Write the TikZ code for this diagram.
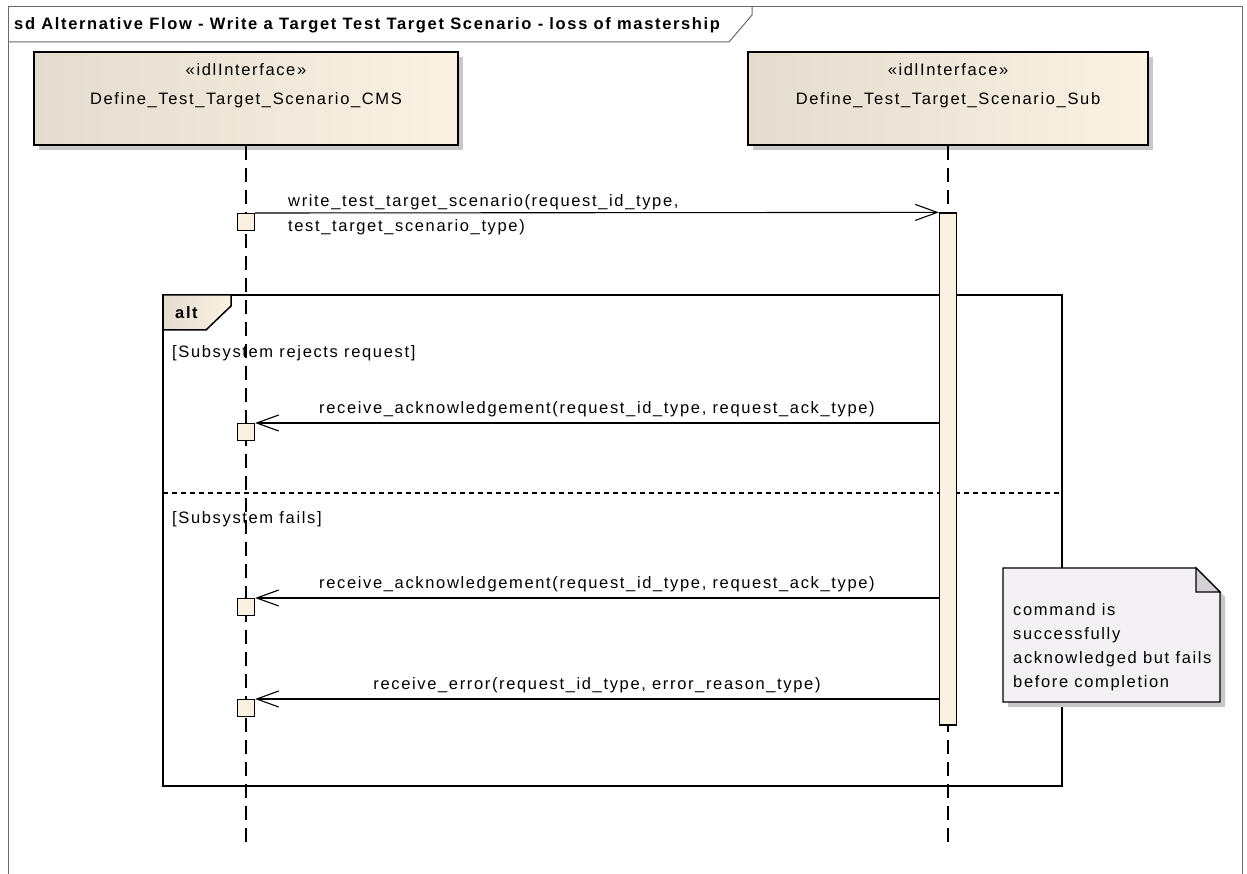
\documentclass[tikz,border=0pt]{standalone}
\usepackage{fontspec}
\setmainfont{Liberation Sans}[LetterSpace=10]
\usetikzlibrary{arrows.meta,shadows}

\definecolor{boxL}{RGB}{228,220,206}
\definecolor{boxR}{RGB}{251,242,228}
\definecolor{execfill}{RGB}{251,241,227}
\definecolor{notefill}{RGB}{244,241,245}
\definecolor{foldfill}{RGB}{212,208,213}
\definecolor{shadowgray}{RGB}{200,200,200}
\definecolor{framegray}{RGB}{105,105,105}

\tikzset{
    txt/.style={font=\fontsize{16.5}{29}\selectfont,inner sep=0pt},
    boxshadow/.style={drop shadow={shadow xshift=5pt,shadow yshift=-5pt,fill=shadowgray,opacity=1}},
    lifebox/.style={draw=black,line width=1.5pt,left color=boxL,right color=boxR,
        minimum height=93pt,inner sep=0pt,boxshadow},
    lifeline/.style={line width=1.2pt,dash pattern=on 14pt off 8pt},
    execsq/.style={draw=black,line width=1.2pt,fill=execfill,minimum size=17pt,inner sep=0pt},
    execbar/.style={draw=black,line width=1.2pt,fill=execfill,minimum width=17pt,
        minimum height=512pt,inner sep=0pt},
    msg/.style={line width=1.1pt,-{Straight Barb[length=22pt,width=16pt,line width=1.1pt]}},
    msglabel/.style={txt,above=6pt},
    fragment/.style={line width=1.5pt},
    guardline/.style={line width=1.1pt,dash pattern=on 5pt off 4pt}
}

\begin{document}
\begin{tikzpicture}[x=1pt,y=-1pt]
    \useasboundingbox (0,0) rectangle (1247,874);
    % outer frame
    \draw[framegray,line width=1pt](8,874)--(8,7)--(1242,7)--(1242,874);
    \draw[framegray,line width=1pt](8,42)--(729,42)--(752,15)--(752,7);
    \node[txt,anchor=west,font=\fontsize{16.5}{20}\selectfont\bfseries](title)at(14,25)
        {sd Alternative Flow - Write a Target Test Target Scenario - loss of mastership};
    % lifelines
    \node[lifebox,minimum width=424pt](cms)at(246,98.5){};
    \node[lifebox,minimum width=400pt](sub)at(948,98.5){};
    \node[txt,align=center](cmsTxt)at(246,85.5){«idlInterface»\\Define\_Test\_Target\_Scenario\_CMS};
    \node[txt,align=center](subTxt)at(948,85.5){«idlInterface»\\Define\_Test\_Target\_Scenario\_Sub};
    \coordinate(cmsEnd)at(246,847);
    \coordinate(subEnd)at(948,847);
    \draw[lifeline](cms.south)--(cmsEnd);
    \draw[lifeline](sub.south)--(subEnd);
    % alt fragment
    \coordinate(altNW)at(163,295);
    \coordinate(altSE)at(1062,786);
    \draw[fragment](altNW)rectangle(altSE);
    \draw[fragment,left color=boxL,right color=boxR](163,295)--(231,295)--(231,306)--(206,330)--(163,330)--cycle;
    \node[txt,anchor=west,font=\fontsize{16.5}{20}\selectfont\bfseries](altTxt)at(175,313){alt};
    \draw[guardline](163,493)--(1062,493);
    \node[txt,anchor=west](guardA)at(172,353){[Subsystem rejects request]};
    \node[txt,anchor=west](guardB)at(172,519){[Subsystem fails]};
    % execution
    \node[execbar](act)at(948,469){};
    \node[execsq,anchor=north](sqA)at(246,213){};
    \node[execsq,anchor=north](sqB)at(246,423){};
    \node[execsq,anchor=north](sqC)at(246,598){};
    \node[execsq,anchor=north](sqD)at(246,699){};
    % messages
    \draw[msg](sqA.north east)--(act.north west);
    \node[txt,anchor=west,align=left,font=\fontsize{16.5}{25}\selectfont](msgA)at(288,215)
        {write\_test\_target\_scenario(request\_id\_type,\\test\_target\_scenario\_type)};
    \draw[msg](act.west|-sqB.north)--(sqB.north east)
        node[msglabel,midway]{receive\_acknowledgement(request\_id\_type, request\_ack\_type)};
    \draw[msg](act.west|-sqC.north)--(sqC.north east)
        node[msglabel,midway]{receive\_acknowledgement(request\_id\_type, request\_ack\_type)};
    \draw[msg](act.west|-sqD.north)--(sqD.north east)
        node[msglabel,midway]{receive\_error(request\_id\_type, error\_reason\_type)};
    % note
    \draw[line width=1.2pt,fill=notefill,boxshadow](1003,568)--(1196,568)--(1220,592)--(1220,702)--(1003,702)--cycle;
    \draw[line width=1.2pt,fill=foldfill](1196,568)--(1196,592)--(1220,592)--cycle;
    \node[txt,anchor=north west,align=left,font=\fontsize{16.5}{24}\selectfont](noteTxt)at(1013,603)
        {command is\\successfully\\acknowledged but fails\\before completion};
\end{tikzpicture}
\end{document}
